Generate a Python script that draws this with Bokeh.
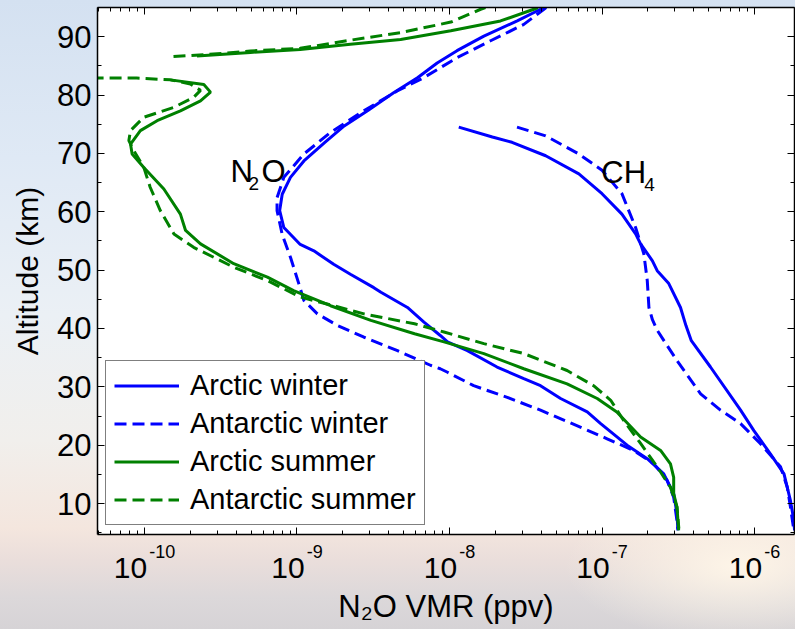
import math

from bokeh.embed import file_html
from bokeh.models import (CustomJSTickFormatter, FixedTicker, Label, Legend, LegendItem,
                          LinearAxis, LogAxis, LogTicker, Range1d, SingleIntervalTicker)
from bokeh.plotting import figure
from bokeh.resources import INLINE

FONT = "Liberation Sans"
BLUE = "#0000ff"
GREEN = "#008000"
DASH = "12 6"

# ---- N2O, Arctic winter: altitude (km) / VMR (ppv)
aw_n2o_alt = [95.0, 94.7, 92.7, 90.1, 87.6, 85.5, 83.0, 80.4, 77.3, 74.7, 71.8, 68.7, 65.9,
              63.0, 60.2, 57.3, 54.4, 53.3, 51.0, 49.3, 47.0, 46.2, 43.6, 41.1, 38.8, 37.7,
              36.2, 33.4, 31.4, 30.2, 28.0, 25.7, 23.7, 20.0, 17.7, 15.1, 11.7, 8.3, 5.7]
aw_n2o_vmr = [4.1e-8, 3.95e-8, 2.78e-8, 1.68e-8, 1.12e-8, 8.3e-9, 6.2e-9, 4.3e-9, 2.9e-9,
              2.04e-9, 1.51e-9, 1.11e-9, 9.06e-10, 8.0e-10, 7.7e-10, 8.2e-10, 1.05e-9,
              1.29e-9, 1.74e-9, 2.24e-9, 3.19e-9, 3.55e-9, 5.3e-9, 6.8e-9, 8.7e-9, 9.7e-9,
              1.31e-8, 2.05e-8, 3.07e-8, 3.95e-8, 5.35e-8, 8.0e-8, 9.8e-8, 1.46e-7, 1.98e-7,
              2.54e-7, 2.95e-7, 3.1e-7, 3.14e-7]

# ---- N2O, Antarctic winter
an_n2o_alt = [95.0, 94.7, 92.1, 89.3, 86.4, 83.0, 80.7, 77.3, 73.6, 69.9, 65.9, 62.4, 60.2,
              56.1, 52.2, 47.6, 44.8, 42.5, 40.5, 38.5, 36.2, 33.7, 33.1, 32.5, 30.2, 28.2,
              26.0, 23.1, 21.1, 19.1, 16.8, 14.0, 11.1, 7.1, 5.4]
an_n2o_vmr = [4.3e-8, 4.16e-8, 3.07e-8, 1.86e-8, 1.12e-8, 6.8e-9, 4.54e-9, 2.74e-9, 1.66e-9,
              1.11e-9, 8.2e-10, 7.4e-10, 7.4e-10, 8.0e-10, 9.06e-10, 1.03e-9, 1.11e-9,
              1.36e-9, 1.85e-9, 2.75e-9, 4.56e-9, 7.5e-9, 8.7e-9, 9.7e-9, 1.44e-8, 2.39e-8,
              3.95e-8, 7.2e-8, 1.08e-7, 1.61e-7, 2.19e-7, 2.67e-7, 2.95e-7, 3.1e-7, 3.14e-7]

# ---- N2O, Arctic summer (lower and upper mesospheric branches)
as_low_alt = [82.6, 81.8, 80.5, 79.0, 77.3, 75.6, 73.9, 71.6, 69.9, 67.6, 63.9, 59.6, 56.8,
              54.5, 51.1, 48.8, 46.5, 43.9, 41.4, 39.1, 37.7, 35.7, 33.1, 30.5, 28.0, 25.7,
              21.4, 19.1, 16.8, 14.5, 11.7, 9.4, 5.4]
as_low_vmr = [1.48e-10, 2.45e-10, 2.71e-10, 2.33e-10, 1.72e-10, 1.21e-10, 9.4e-11, 8.1e-11,
              8.3e-11, 9.9e-11, 1.34e-10, 1.72e-10, 1.86e-10, 2.33e-10, 3.85e-10, 6.4e-10,
              9.5e-10, 1.66e-9, 3.05e-9, 5.9e-9, 9.2e-9, 1.68e-8, 3.07e-8, 5.9e-8, 9.3e-8,
              1.25e-7, 1.79e-7, 2.42e-7, 2.81e-7, 2.95e-7, 2.95e-7, 3.1e-7, 3.18e-7]
as_up_alt = [86.7, 87.3, 87.8, 88.7, 89.5, 91.0, 92.7, 94.7, 95.0]
as_up_vmr = [2.21e-10, 4.95e-10, 1.05e-9, 2.24e-9, 4.78e-9, 1.02e-8, 2.16e-8, 3.57e-8, 3.8e-8]

# ---- N2O, Antarctic summer
ns_low_alt = [82.9, 82.9, 82.6, 81.9, 80.8, 79.6, 77.9, 76.2, 73.9, 72.2, 70.5, 67.6, 64.2,
              60.2, 56.2, 53.9, 50.5, 48.2, 45.4, 43.9, 42.5, 40.8, 39.4, 37.4, 35.7, 32.8,
              30.2, 27.7, 24.2, 20.3, 16.3, 12.8, 9.4, 5.7]
ns_low_vmr = [4.5e-11, 8.9e-11, 1.48e-10, 2.0e-10, 2.33e-10, 2.1e-10, 1.56e-10, 9.9e-11,
              8.1e-11, 7.9e-11, 8.5e-11, 9.9e-11, 1.09e-10, 1.27e-10, 1.56e-10, 2.1e-10,
              3.85e-10, 6.4e-10, 1.05e-9, 1.74e-9, 2.75e-9, 5.9e-9, 9.2e-9, 1.68e-8, 3.07e-8,
              5.9e-8, 8.8e-8, 1.14e-7, 1.39e-7, 1.79e-7, 2.3e-7, 2.81e-7, 3.1e-7, 3.19e-7]
ns_up_alt = [86.6, 87.1, 87.55, 88.0, 89.4, 90.7, 92.5, 94.7, 95.0]
ns_up_vmr = [1.55e-10, 3.2e-10, 4.95e-10, 1.05e-9, 2.24e-9, 4.78e-9, 1.02e-8, 1.6e-8, 1.72e-8]

# ---- CH4, Arctic winter
aw_ch4_alt = [74.5, 72.8, 71.9, 69.6, 66.5, 63.1, 59.6, 56.2, 54.5, 51.6, 49.9, 47.7, 43.6,
              40.5, 37.9, 33.4, 26.0, 22.5, 18.5, 15.1, 10.5, 7.1, 5.4]
aw_ch4_vmr = [1.15e-8, 1.91e-8, 2.57e-8, 4.27e-8, 7.05e-8, 1.0e-7, 1.35e-7, 1.66e-7, 1.79e-7,
              2.14e-7, 2.3e-7, 2.74e-7, 3.27e-7, 3.55e-7, 3.85e-7, 5.14e-7, 8.1e-7, 9.9e-7,
              1.27e-6, 1.56e-6, 1.72e-6, 1.81e-6, 1.83e-6]

# ---- CH4, Antarctic winter
an_ch4_alt = [74.5, 73.0, 69.9, 67.1, 63.1, 57.3, 52.8, 48.2, 43.6, 41.5, 39.7, 34.5, 28.8,
              26.0, 23.7, 20.3, 16.3, 12.8, 9.4, 5.4]
an_ch4_vmr = [2.77e-8, 4.27e-8, 7.05e-8, 1.0e-7, 1.35e-7, 1.66e-7, 1.88e-7, 1.98e-7, 2.03e-7,
              2.14e-7, 2.3e-7, 3.1e-7, 4.43e-7, 5.98e-7, 8.1e-7, 1.09e-6, 1.48e-6, 1.64e-6,
              1.72e-6, 1.81e-6]

x_decades = [-10, -9, -8, -7, -6]
legend_labels = ["Arctic winter", "Antarctic winter", "Arctic summer", "Antarctic summer"]
x_title = "N\u2082O VMR (ppv)"
y_title = "Altitude (km)"

X_LO, X_HI = 10 ** -10.308, 10 ** -5.738
Y_LO, Y_HI = 4.7, 95.0
FRAME_W = 697
DEC_PX = FRAME_W / (math.log10(X_HI) - math.log10(X_LO))   # pixels per decade

p = figure(width=795, height=629, x_axis_type="log",
           x_range=Range1d(X_LO, X_HI), y_range=Range1d(Y_LO, Y_HI),
           output_backend="svg", toolbar_location=None,
           min_border_left=97, min_border_right=1, min_border_top=7, min_border_bottom=95)

p.background_fill_color = "white"
p.border_fill_color = None
p.outline_line_color = None
p.xgrid.grid_line_color = None
p.ygrid.grid_line_color = None
p.styles = {
    "background": (
        "radial-gradient(ellipse 22% 12% at 93% 90%, rgba(255,246,232,0.95) 0%, "
        "rgba(255,246,232,0) 100%), "
        "linear-gradient(to bottom, #d4e1f1 0%, #dfe9f5 25%, #ebf0f5 50%, #f1efec 70%, "
        "#f4e6de 84%, #eadedb 89%, #dcd8da 95%, #d6d3d6 100%)"
    )
}

blank = CustomJSTickFormatter(code="return ''")


def style_axis(ax):
    ax.axis_line_color = "black"
    ax.axis_line_width = 1.5
    ax.major_tick_line_color = "black"
    ax.minor_tick_line_color = "black"
    ax.major_tick_line_width = 1
    ax.minor_tick_line_width = 1
    ax.major_tick_in = 7
    ax.major_tick_out = 0
    ax.minor_tick_in = 4
    ax.minor_tick_out = 0


def label_only_axis(ax):
    ax.axis_line_color = None
    ax.major_tick_line_color = None
    ax.minor_tick_line_color = None
    ax.major_tick_in = 0
    ax.major_tick_out = 0
    ax.minor_tick_in = 0
    ax.minor_tick_out = 0


yticker = SingleIntervalTicker(interval=10, num_minor_ticks=2)
xticker = LogTicker(num_minor_ticks=10)

# bottom axis: tick marks only, the decade labels come from the two axes below it
xa = p.xaxis[0]
xa.ticker = xticker
xa.formatter = blank
xa.major_label_text_font_size = "1px"
xa.major_label_standoff = 0
style_axis(xa)

ya = p.yaxis[0]
ya.ticker = yticker
style_axis(ya)
ya.major_label_text_font = FONT
ya.major_label_text_font_size = "31px"
ya.major_label_text_color = "black"
ya.major_label_standoff = 6
ya.axis_label = y_title
ya.axis_label_text_font = FONT
ya.axis_label_text_font_size = "30px"
ya.axis_label_text_font_style = "normal"
ya.axis_label_text_color = "black"
ya.axis_label_standoff = 10

# decade labels "10" + raised exponent, the pair centred on each decade tick
CHAR_W = {"0": 0.556, "1": 0.556, "2": 0.556, "6": 0.556, "7": 0.556, "8": 0.556,
          "9": 0.556, "-": 0.333}
BASE_SIZE, EXP_SIZE, GAP = 30, 18, 2
w10 = 2 * 0.556 * BASE_SIZE
exp_ticks, base_ticks = [], []
for d in x_decades:
    wexp = sum(CHAR_W[c] for c in str(d)) * EXP_SIZE
    left = -(w10 + GAP + wexp) / 2
    base_ticks.append(10.0 ** (d + (left + w10 / 2) / DEC_PX))
    exp_ticks.append(10.0 ** (d + (left + w10 + GAP + wexp / 2) / DEC_PX))

exp_axis = LogAxis(ticker=FixedTicker(ticks=exp_ticks),
                   formatter=CustomJSTickFormatter(code="return String(Math.round(Math.log10(tick)))"))
label_only_axis(exp_axis)
exp_axis.major_label_text_font = FONT
exp_axis.major_label_text_font_size = f"{EXP_SIZE}px"
exp_axis.major_label_text_color = "black"
exp_axis.major_label_standoff = 10
p.add_layout(exp_axis, "below")

base_axis = LogAxis(ticker=FixedTicker(ticks=base_ticks),
                    formatter=CustomJSTickFormatter(code="return '10'"))
label_only_axis(base_axis)
base_axis.major_label_text_font = FONT
base_axis.major_label_text_font_size = f"{BASE_SIZE}px"
base_axis.major_label_text_color = "black"
base_axis.major_label_standoff = -3
base_axis.axis_label = x_title
base_axis.axis_label_text_font = FONT
base_axis.axis_label_text_font_size = "31px"
base_axis.axis_label_text_font_style = "normal"
base_axis.axis_label_text_color = "black"
base_axis.axis_label_standoff = 8
p.add_layout(base_axis, "below")

top = LogAxis(ticker=xticker, formatter=blank, major_label_standoff=0,
              major_label_text_font_size="1px")
style_axis(top)
p.add_layout(top, "above")
right = LinearAxis(ticker=yticker, formatter=blank, major_label_standoff=0,
                   major_label_text_font_size="1px")
style_axis(right)
p.add_layout(right, "right")


def gap_join(a, b):
    return list(a) + [float("nan")] + list(b)


r_aw = p.line(aw_n2o_vmr, aw_n2o_alt, line_color=BLUE, line_width=3)
r_an = p.line(an_n2o_vmr, an_n2o_alt, line_color=BLUE, line_width=3, line_dash=DASH)
r_as = p.line(gap_join(as_low_vmr, as_up_vmr), gap_join(as_low_alt, as_up_alt),
              line_color=GREEN, line_width=3)
r_ns = p.line(gap_join(ns_low_vmr, ns_up_vmr), gap_join(ns_low_alt, ns_up_alt),
              line_color=GREEN, line_width=3, line_dash=DASH)
p.line(aw_ch4_vmr, aw_ch4_alt, line_color=BLUE, line_width=3)
p.line(an_ch4_vmr, an_ch4_alt, line_color=BLUE, line_width=3, line_dash=DASH)

legend = Legend(items=[LegendItem(label=t, renderers=[r])
                       for t, r in zip(legend_labels, [r_aw, r_an, r_as, r_ns])],
                location=(8, 9))
legend.label_text_font = FONT
legend.label_text_font_size = "29px"
legend.label_text_color = "black"
legend.glyph_width = 65
legend.glyph_height = 31
legend.label_height = 31
legend.spacing = 5
legend.padding = 8
legend.margin = 0
legend.label_standoff = 11
legend.border_line_color = "black"
legend.border_line_width = 1.2
legend.background_fill_color = "white"
legend.background_fill_alpha = 1
p.add_layout(legend)


def add_text(text, x, y, size, dx=0, dy=0):
    p.add_layout(Label(x=x, y=y, x_offset=dx, y_offset=dy, text=text,
                       text_font=FONT, text_font_size=f"{size}px", text_color="black",
                       text_align="left", text_baseline="alphabetic"))


# species annotations
add_text("N", 3.66e-10, 66.9, 31)
add_text("2", 3.66e-10, 66.9, 19, dx=18, dy=-12)
add_text("O", 3.66e-10, 66.9, 31, dx=31)
add_text("CH", 9.9e-8, 66.7, 31)
add_text("4", 9.9e-8, 66.7, 19, dx=43, dy=-12)

open("out.html", "w").write(file_html(p, INLINE))
